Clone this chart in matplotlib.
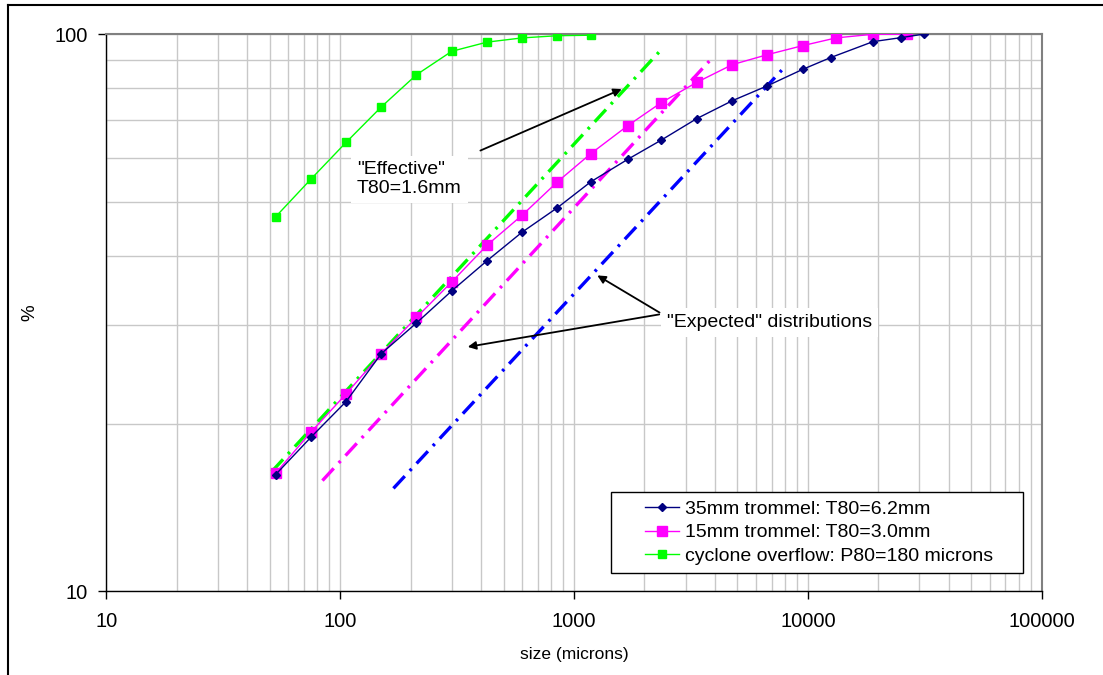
import matplotlib
matplotlib.use("Agg")
import matplotlib.pyplot as plt
from matplotlib.lines import Line2D
from matplotlib.patches import Rectangle
from matplotlib.ticker import LogLocator, FixedLocator, NullFormatter

plt.rcParams.update({
    "font.family": ["Liberation Sans", "DejaVu Sans"],
    "font.size": 14,
})

# sieve sizes (microns) and cumulative % passing
size_35 = [53, 75, 106, 150, 212, 300, 425, 600, 850, 1180, 1700, 2360, 3350,
           4750, 6700, 9500, 12500, 19000, 25000, 31500]
pass_35 = [16.2, 18.9, 21.9, 26.7, 30.3, 34.6, 39.2, 44.1, 48.8, 54.3, 59.6,
           64.5, 70.5, 75.9, 80.7, 86.4, 90.7, 96.9, 98.5, 100.0]

size_15 = [53, 75, 106, 150, 212, 300, 425, 600, 850, 1180, 1700, 2360, 3350,
           4750, 6700, 9500, 13200, 19000, 26500]
pass_15 = [16.3, 19.3, 22.6, 26.7, 31.0, 35.9, 41.8, 47.3, 54.3, 61.0, 68.5,
           75.3, 81.9, 88.1, 91.8, 95.3, 98.4, 99.9, 99.9]

size_cyc = [53, 75, 106, 150, 212, 300, 425, 600, 850, 1180]
pass_cyc = [47.0, 54.9, 63.9, 74.0, 84.5, 93.1, 96.7, 98.4, 99.3, 99.5]

# straight-line distributions, end points (size, % passing)
eff_x, eff_y = [51, 2370], [16.4, 93.9]          # effective, T80 = 1.6 mm
exp15_x, exp15_y = [84, 3920], [15.8, 90.8]      # expected 15 mm trommel
exp35_x, exp35_y = [169, 7990], [15.3, 87.4]     # expected 35 mm trommel

NAVY = "#000080"
MAG = "#FF00FF"
GRN = "#00FF00"
BLUE = "#0000FF"

W, H = 1103, 675
X0, X1, Y0, Y1 = 106.3, 1041.7, 34.0, 591.3   # plot area in pixels
fig = plt.figure(figsize=(W / 100, H / 100), dpi=100)
ax = fig.add_axes([X0 / W, 1 - Y1 / H, (X1 - X0) / W, (Y1 - Y0) / H])


def ax_frac(px, py):
    return (px - X0) / (X1 - X0), (Y1 - py) / (Y1 - Y0)


ax.set_xscale("log")
ax.set_yscale("log")
ax.set_xlim(10, 100000)
ax.set_ylim(10, 100)

# gridlines, major and minor
ax.xaxis.set_major_locator(LogLocator(base=10, numticks=10))
ax.xaxis.set_minor_locator(LogLocator(base=10, subs=range(2, 10), numticks=50))
ax.yaxis.set_major_locator(FixedLocator([10, 100]))
ax.yaxis.set_minor_locator(FixedLocator([20, 30, 40, 50, 60, 70, 80, 90]))
ax.xaxis.set_major_formatter(plt.FuncFormatter(lambda v, p: f"{v:.0f}"))
ax.yaxis.set_major_formatter(plt.FuncFormatter(lambda v, p: f"{v:.0f}"))
ax.xaxis.set_minor_formatter(NullFormatter())
ax.yaxis.set_minor_formatter(NullFormatter())
ax.grid(True, which="both", color="#C8C8C8", lw=1.0)
ax.set_axisbelow(True)
ax.tick_params(which="minor", length=0)
ax.tick_params(which="major", direction="out", length=6, width=1, color="black",
               labelsize=14.5)
ax.tick_params(axis="x", pad=9)
ax.tick_params(axis="y", pad=7)

for s in ("top", "right"):
    ax.spines[s].set_color("#808080")
    ax.spines[s].set_linewidth(1.5)
for s in ("left", "bottom"):
    ax.spines[s].set_color("black")
    ax.spines[s].set_linewidth(1.0)

# dash-dot distribution lines
dd = (0, (5, 2.2, 0.8, 2.2))
ax.plot(exp35_x, exp35_y, color=BLUE, lw=2.4, linestyle=dd, zorder=3)
ax.plot(exp15_x, exp15_y, color=MAG, lw=2.4, linestyle=dd, zorder=3)
ax.plot(eff_x, eff_y, color=GRN, lw=2.4, linestyle=dd, zorder=3)

# measured curves
ax.plot(size_cyc, pass_cyc, color=GRN, lw=1, marker="s", ms=6, zorder=4)
ax.plot(size_15, pass_15, color=MAG, lw=1, marker="s", ms=7, zorder=5)
ax.plot(size_35, pass_35, color=NAVY, lw=1, marker="D", ms=4, zorder=6)

# legend box drawn separately so the padding can differ per side
bx0, by0 = ax_frac(611, 573)
bx1, by1 = ax_frac(1023, 492)
ax.add_patch(Rectangle((bx0, by0), bx1 - bx0, by1 - by0, transform=ax.transAxes,
                       fc="white", ec="black", lw=1.0, zorder=9))
handles = [
    Line2D([], [], color=NAVY, lw=1, marker="D", ms=4),
    Line2D([], [], color=MAG, lw=1, marker="s", ms=7),
    Line2D([], [], color=GRN, lw=1, marker="s", ms=6),
]
labels = ["35mm trommel: T80=6.2mm", "15mm trommel: T80=3.0mm",
          "cyclone overflow: P80=180 microns"]
lx, ly = ax_frac(645, 532.5)
leg = ax.legend(handles, labels, loc="center left", bbox_to_anchor=(lx, ly),
                borderaxespad=0, borderpad=0, frameon=False, fontsize=14,
                handlelength=1.75, handletextpad=0.3, labelspacing=0.3)
leg.set_zorder(10)

ax.set_xlabel("size (microns)", fontsize=12.5)
ax.xaxis.set_label_coords(0.5, ax_frac(0, 655)[1])
ax.xaxis.label.set_va("center")
ax.set_ylabel("%", fontsize=13.5)
ax.yaxis.set_label_coords(ax_frac(30, 0)[0], 0.5)
ax.yaxis.label.set_va("center")

# annotations
box = dict(boxstyle="square,pad=0.3", fc="white", ec="none")
arrow = dict(arrowstyle="-|>", color="black", lw=1.3, mutation_scale=12)
ax.text(118, 54.9, '"Effective"\nT80=1.6mm', fontsize=14, va="center",
        ha="left", bbox=box, zorder=7, linespacing=1.1)
ax.annotate("", xy=(1640, 80), xytext=(388, 61.5), arrowprops=arrow, zorder=8)

ax.text(2500, 30.4, '"Expected" distributions', fontsize=14, va="center",
        ha="left", bbox=box, zorder=7)
ax.annotate("", xy=(1229, 37.1), xytext=(2377, 31.45), arrowprops=arrow, zorder=8)
ax.annotate("", xy=(342, 27.4), xytext=(2377, 31.45), arrowprops=arrow, zorder=8)

# outer chart border (top and left edges)
fig.add_artist(Line2D([8 / W, 1], [1 - 5 / H, 1 - 5 / H], color="black", lw=1.5,
                      transform=fig.transFigure))
fig.add_artist(Line2D([8 / W, 8 / W], [0, 1 - 5 / H], color="black", lw=1.5,
                      transform=fig.transFigure))

fig.savefig("out.png", dpi=100)
